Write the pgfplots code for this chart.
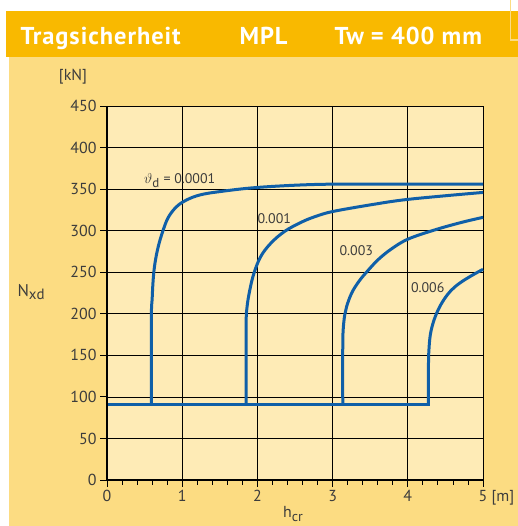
\documentclass[border=0pt]{standalone}
\usepackage{pgfplots}
\pgfplotsset{compat=1.18}
\usepackage{fontspec}
\setmainfont{PT Sans}
\definecolor{band}{HTML}{F9B900}
\definecolor{bg}{HTML}{FCDC82}
\definecolor{plotbg}{HTML}{FEEBB6}
\definecolor{curve}{HTML}{0F5FA8}
\definecolor{txt}{HTML}{3C3C3C}
\begin{document}
\begin{tikzpicture}[x=1bp,y=1bp]
\useasboundingbox (0,0) rectangle (518,526);
\fill[white] (0,0) rectangle (518,526);
\fill[bg] (9,0) rectangle (518,469);
\fill[band] (6,469) rectangle (518,514.5);
\draw[color=bg, line width=1.5bp] (510.5,526) -- (510.5,486) -- (518,486);
\node[anchor=base west, text=white, font=\fontsize{24.5}{26}\selectfont\bfseries\addfontfeatures{LetterSpace=4}] at (17,481) {Tragsicherheit};
\node[anchor=base west, text=white, font=\fontsize{24.5}{26}\selectfont\bfseries\addfontfeatures{LetterSpace=4}] at (236,481) {MPL};
\node[anchor=base west, text=white, font=\fontsize{24.5}{26}\selectfont\bfseries\addfontfeatures{LetterSpace=4}] at (331,481) {Tw = 400 mm};
\begin{axis}[at={(107bp,46bp)}, anchor=south west, scale only axis,
  width=376bp, height=374bp,
  xmin=0, xmax=5, ymin=0, ymax=450,
  xtick={0,1,2,3,4,5}, xticklabels={0,1,2,3,4,{5\rlap{ [m]}}},
  ytick={0,50,...,450},
  minor x tick num=4,
  grid=major, major grid style={black, line width=0.7bp},
  axis line style={black, line width=0.8bp},
  tick pos=left, tick align=outside,
  major tick length=7bp, minor tick length=5bp,
  tick style={black, line width=0.8bp},
  axis background/.style={fill=plotbg},
  ticklabel style={font=\fontsize{16}{18}\selectfont, text=txt},
  /pgf/number format/assume math mode=true,
  clip=false]
\addplot[curve, line width=3bp, line cap=rect] coordinates {(0,91) (4.275,91)};
\addplot[curve, line width=3bp, smooth, tension=0.6] coordinates {(0.59,91) (0.59,195) (0.600,217) (0.614,241) (0.638,261) (0.682,281) (0.741,299) (0.815,316) (0.927,329) (1.06,337) (1.237,343) (1.50,347) (2.0,352) (2.74,355.5) (3.5,356) (5,356)};
\addplot[curve, line width=3bp, smooth, tension=0.6] coordinates {(1.85,91) (1.85,185) (1.862,208) (1.90,229) (1.955,249) (2.045,269) (2.18,285) (2.36,299) (2.58,310) (2.77,317) (3.0,323) (3.5,331) (3.94,337) (4.5,342) (5,346)};
\addplot[curve, line width=3bp, smooth, tension=0.6] coordinates {(3.135,91) (3.135,160) (3.14,180) (3.16,198) (3.187,209) (3.254,225) (3.35,239) (3.46,251) (3.61,265.5) (3.79,278.5) (4.007,290) (4.362,301) (4.717,310) (5,316)};
\addplot[curve, line width=3bp, smooth, tension=0.6] coordinates {(4.275,91) (4.275,140) (4.282,158) (4.30,175) (4.34,190) (4.40,204) (4.48,217) (4.58,228.5) (4.70,237.5) (4.85,246) (5,253.5)};
\draw[black, line width=2bp] (rel axis cs:0,1) -- (rel axis cs:0,0) -- (rel axis cs:1,0);
\node[anchor=west, text=txt, font=\fontsize{14}{16}\selectfont, inner sep=0pt] at (axis cs:0.49,360) {$\vartheta_{\mbox{\fontsize{13}{13}\selectfont d}}$ = 0.0001};
\node[anchor=west, text=txt, font=\fontsize{14}{16}\selectfont, inner sep=0pt] at (axis cs:2.0,315) {0.001};
\node[anchor=west, text=txt, font=\fontsize{14}{16}\selectfont, inner sep=0pt] at (axis cs:3.09,275.5) {0.003};
\node[anchor=west, text=txt, font=\fontsize{14}{16}\selectfont, inner sep=0pt] at (axis cs:4.04,232) {0.006};
\end{axis}
\node[text=txt, font=\fontsize{16}{18}\selectfont] at (73,449) {[kN]};
\node[text=txt, font=\fontsize{17}{18}\selectfont, anchor=base west] at (14,229) {N\raisebox{-3bp}{\fontsize{15}{16}\selectfont xd}};
\node[text=txt, font=\fontsize{16}{18}\selectfont, anchor=base west, inner sep=0pt] at (283,8) {h\raisebox{-4bp}{\fontsize{14}{16}\selectfont cr}};
\end{tikzpicture}
\end{document}
